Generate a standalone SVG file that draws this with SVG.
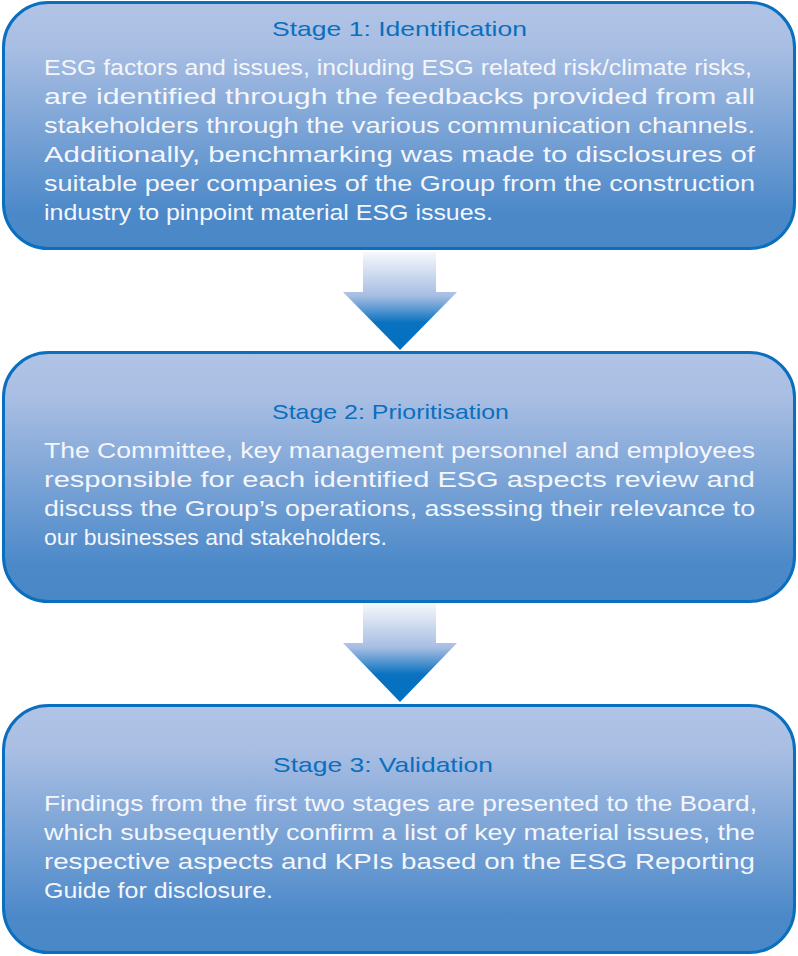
<svg xmlns="http://www.w3.org/2000/svg" width="798" height="956" viewBox="0 0 798 956">
<defs>
<linearGradient id="boxg" x1="0" y1="0" x2="0" y2="1">
<stop offset="0" stop-color="#b1c4e6"/>
<stop offset="0.18" stop-color="#a9bee3"/>
<stop offset="0.85" stop-color="#4c89c9"/>
<stop offset="1" stop-color="#4a87c7"/>
</linearGradient>
<linearGradient id="arrg" x1="0" y1="0" x2="0" y2="1">
<stop offset="0" stop-color="#f6f8fc"/>
<stop offset="0.45" stop-color="#a6bde2"/>
<stop offset="0.72" stop-color="#0a72c0"/>
<stop offset="1" stop-color="#0070c0"/>
</linearGradient>
<style>
.box{fill:url(#boxg);stroke:#0a6fbf;stroke-width:3}
.title{font-family:"Liberation Sans",Arial,sans-serif;font-size:21px;fill:#0a6fbf}
.body{font-family:"Liberation Sans",Arial,sans-serif;font-size:22px;fill:#f4f6fb}
.arr{fill:url(#arrg)}
</style>
</defs>
<g id="connectors">
<polygon class="arr" points="363,252 436,252 436,292 457,292 400,350 343,292 363,292"/>
<polygon class="arr" points="363,603 436,603 436,643 457,643 400,702 343,643 363,643"/>
</g>
<g id="stage1">
<rect class="box" x="3.5" y="2.5" width="791" height="246" rx="45" ry="45"/>
<text class="title" x="272" y="36" textLength="255" lengthAdjust="spacingAndGlyphs">Stage 1: Identification</text>
<text class="body" x="44" y="75" textLength="708" lengthAdjust="spacingAndGlyphs">ESG factors and issues, including ESG related risk/climate risks,</text>
<text class="body" x="44" y="104" textLength="711" lengthAdjust="spacingAndGlyphs">are identified through the feedbacks provided from all</text>
<text class="body" x="44" y="133" textLength="711" lengthAdjust="spacingAndGlyphs">stakeholders through the various communication channels.</text>
<text class="body" x="44" y="162" textLength="711" lengthAdjust="spacingAndGlyphs">Additionally, benchmarking was made to disclosures of</text>
<text class="body" x="44" y="191" textLength="711" lengthAdjust="spacingAndGlyphs">suitable peer companies of the Group from the construction</text>
<text class="body" x="44" y="220" textLength="449" lengthAdjust="spacingAndGlyphs">industry to pinpoint material ESG issues.</text>
</g>
<g id="stage2">
<rect class="box" x="3.5" y="352.5" width="791" height="249" rx="45" ry="45"/>
<text class="title" x="272" y="419" textLength="237" lengthAdjust="spacingAndGlyphs">Stage 2: Prioritisation</text>
<text class="body" x="44" y="458" textLength="711" lengthAdjust="spacingAndGlyphs">The Committee, key management personnel and employees</text>
<text class="body" x="44" y="487" textLength="711" lengthAdjust="spacingAndGlyphs">responsible for each identified ESG aspects review and</text>
<text class="body" x="44" y="516" textLength="711" lengthAdjust="spacingAndGlyphs">discuss the Group’s operations, assessing their relevance to</text>
<text class="body" x="44" y="545" textLength="343" lengthAdjust="spacingAndGlyphs">our businesses and stakeholders.</text>
</g>
<g id="stage3">
<rect class="box" x="3.5" y="705.5" width="791" height="247" rx="45" ry="45"/>
<text class="title" x="273" y="772" textLength="220" lengthAdjust="spacingAndGlyphs">Stage 3: Validation</text>
<text class="body" x="44" y="811" textLength="713" lengthAdjust="spacingAndGlyphs">Findings from the first two stages are presented to the Board,</text>
<text class="body" x="44" y="840" textLength="711" lengthAdjust="spacingAndGlyphs">which subsequently confirm a list of key material issues, the</text>
<text class="body" x="44" y="869" textLength="711" lengthAdjust="spacingAndGlyphs">respective aspects and KPIs based on the ESG Reporting</text>
<text class="body" x="44" y="898" textLength="229" lengthAdjust="spacingAndGlyphs">Guide for disclosure.</text>
</g>
</svg>
